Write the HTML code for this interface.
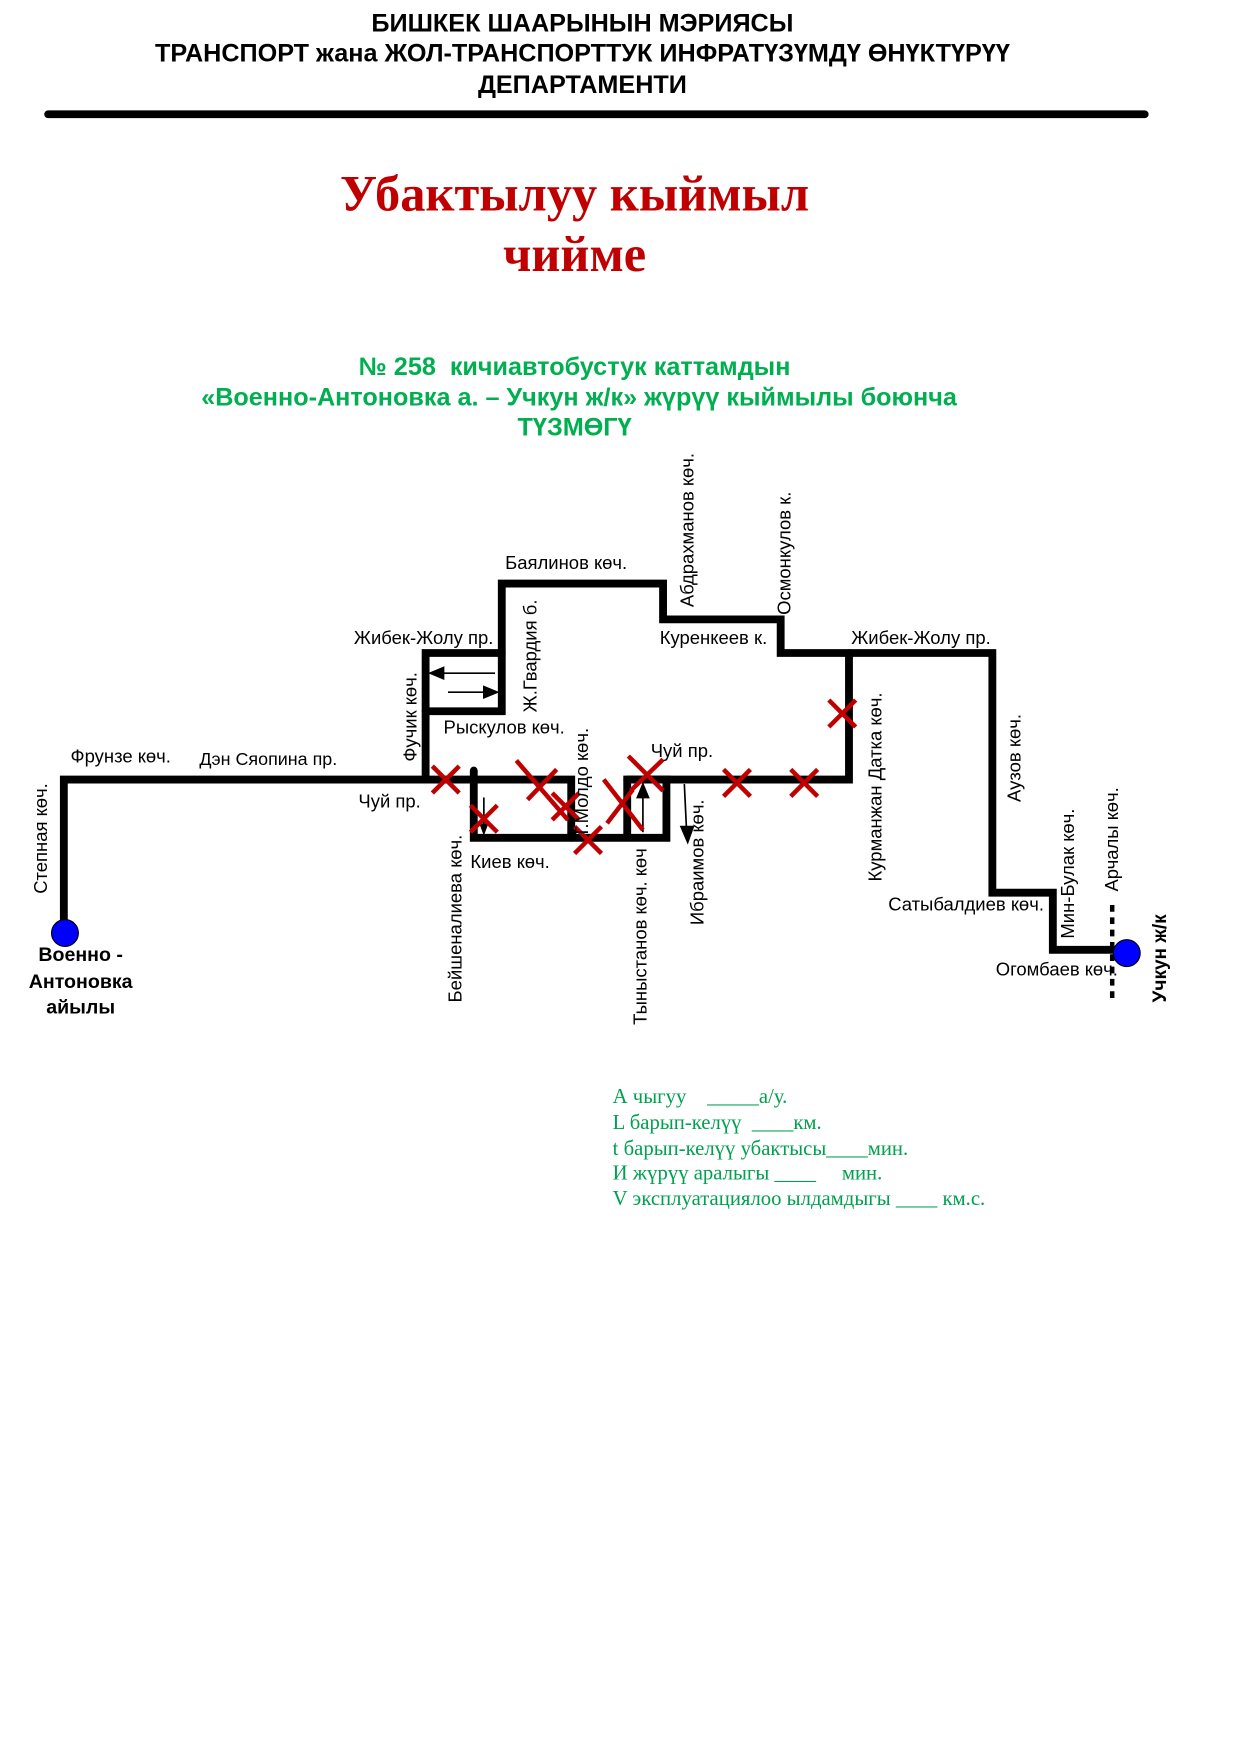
<!DOCTYPE html>
<html><head><meta charset="utf-8"><style>html,body{margin:0;padding:0;background:#fff}svg{display:block}</style></head>
<body>
<svg width="1241" height="1754" viewBox="0 0 1108 1566" xmlns="http://www.w3.org/2000/svg" font-family="Liberation Sans, sans-serif">
<g font-weight="bold" font-size="22.5" text-anchor="middle" fill="#000">
<text x="520" y="28">БИШКЕК ШААРЫНЫН МЭРИЯСЫ</text>
<text x="520" y="55">ТРАНСПОРТ жана ЖОЛ-ТРАНСПОРТТУК ИНФРАТҮЗҮМДҮ ӨНҮКТҮРҮҮ</text>
<text x="520" y="83">ДЕПАРТАМЕНТИ</text>
</g>
<line x1="43" y1="102" x2="1022" y2="102" stroke="#000" stroke-width="7" stroke-linecap="round"/>
<g font-family="Liberation Serif, serif" font-weight="bold" font-size="45" fill="#c00000" text-anchor="middle">
<text x="513" y="188">Убактылуу кыймыл</text>
<text x="513" y="242">чийме</text>
</g>
<g font-weight="bold" font-size="22.5" fill="#00b050" text-anchor="middle">
<text x="513" y="335">№ 258&#160; кичиавтобустук каттамдын</text>
<text x="517" y="362">«Военно-Антоновка а. – Учкун ж/к» жүрүү кыймылы боюнча</text>
<text x="513" y="389">ТҮЗМӨГҮ</text>
</g>
<g stroke="#000" stroke-width="7" fill="none" stroke-linejoin="miter" stroke-linecap="round">
<polyline points="57,833 57,696 510,696 510,748"/>
<polyline points="423,688 423,748 595,748 595,696 560,696 560,748"/>
<polyline points="560,696 758,696 758,583"/>
<polyline points="380,696 380,583 448,583"/>
<polyline points="380,635 448,635 448,521 592,521 592,553 697,553 697,583 886,583 886,797 940,797 940,848 995,848"/>
</g>
<line x1="993" y1="808" x2="993" y2="895" stroke="#000" stroke-width="4" stroke-dasharray="6,5"/>
<circle cx="58" cy="833" r="12" fill="#0000ff" stroke="#000" stroke-width="1"/>
<circle cx="1006" cy="851" r="12" fill="#0000ff" stroke="#000" stroke-width="1"/>
<g stroke="#000" stroke-width="1.5" fill="#000">
<line x1="442" y1="601" x2="392" y2="601"/><polygon points="384,601 396,596 396,606"/>
<line x1="400" y1="618" x2="436" y2="618"/><polygon points="444,618 432,613 432,623"/>
<line x1="574" y1="743" x2="574" y2="708"/><polygon points="574,700 569,712 579,712"/>
<line x1="611" y1="700" x2="613" y2="742"/><polygon points="614,752 608,738 619,738"/>
<line x1="432" y1="712" x2="432" y2="738"/><polygon points="432,744 429,736 435,736"/>
</g>
<g stroke="#c00000" stroke-width="4" fill="none">
<path d="M386,684 L410,708 M410,684 L386,708"/>
<path d="M420,719 L444,743 M444,719 L420,743"/>
<path d="M461,679 L507,732 M497,687 L471,714"/>
<path d="M493,708 L517,732 M517,708 L493,732"/>
<path d="M513,738 L537,762 M537,738 L513,762"/>
<path d="M539,696 L574,741 M542,735 L565,705"/>
<path d="M561,675 L592,706 M592,678 L563,706"/>
<path d="M646,687 L670,711 M670,687 L646,711"/>
<path d="M706,687 L730,711 M730,687 L706,711"/>
<path d="M740,625 L764,649 M764,625 L740,649"/>
</g>
<g font-size="16.5" fill="#000">
<text x="63" y="681">Фрунзе көч.</text>
<text x="178" y="683" font-size="16">Дэн Сяопина пр.</text>
<text x="320" y="721">Чуй пр.</text>
<text x="316" y="575">Жибек-Жолу пр.</text>
<text x="451" y="508">Баялинов көч.</text>
<text x="396" y="655">Рыскулов көч.</text>
<text x="420" y="775">Киев көч.</text>
<text x="581" y="676">Чуй пр.</text>
<text x="589" y="575">Куренкеев к.</text>
<text x="760" y="575">Жибек-Жолу пр.</text>
<text x="793" y="813">Сатыбалдиев көч.</text>
<text x="889" y="871">Огомбаев көч.</text>
<text transform="translate(42,798) rotate(-90)">Степная көч.</text>
<text transform="translate(372,680) rotate(-90)">Фучик көч.</text>
<text transform="translate(479,636) rotate(-90)">Ж.Гвардия б.</text>
<text transform="translate(525,748) rotate(-90)">Т.Молдо көч.</text>
<text transform="translate(412,895) rotate(-90)">Бейшеналиева көч.</text>
<text transform="translate(577,915) rotate(-90)">Тыныстанов көч. көч</text>
<text transform="translate(628,826) rotate(-90)">Ибраимов көч.</text>
<text transform="translate(619,542) rotate(-90)">Абдрахманов көч.</text>
<text transform="translate(706,549) rotate(-90)">Осмонкулов к.</text>
<text transform="translate(787,787) rotate(-90)">Курманжан Датка көч.</text>
<text transform="translate(911,716) rotate(-90)">Аузов көч.</text>
<text transform="translate(959,838) rotate(-90)">Мин-Булак көч.</text>
<text transform="translate(998,796) rotate(-90)">Арчалы көч.</text>
</g>
<text transform="translate(1041,895) rotate(-90)" font-size="17" font-weight="bold">Учкун ж/к</text>
<g font-size="17.5" font-weight="bold" text-anchor="middle">
<text x="72" y="858">Военно -</text>
<text x="72" y="882">Антоновка</text>
<text x="72" y="905">айылы</text>
</g>
<g font-family="Liberation Serif, serif" font-size="18.5" fill="#00a050">
<text x="547" y="985">А чыгуу&#160;&#160;&#160; _____а/у.</text>
<text x="547" y="1008">L барып-келүү&#160; ____км.</text>
<text x="547" y="1031">t барып-келүү убактысы____мин.</text>
<text x="547" y="1053">И жүрүү аралыгы ____&#160;&#160;&#160;&#160; мин.</text>
<text x="547" y="1076">V эксплуатациялоо ылдамдыгы ____ км.с.</text>
</g>
</svg>
</body></html>
